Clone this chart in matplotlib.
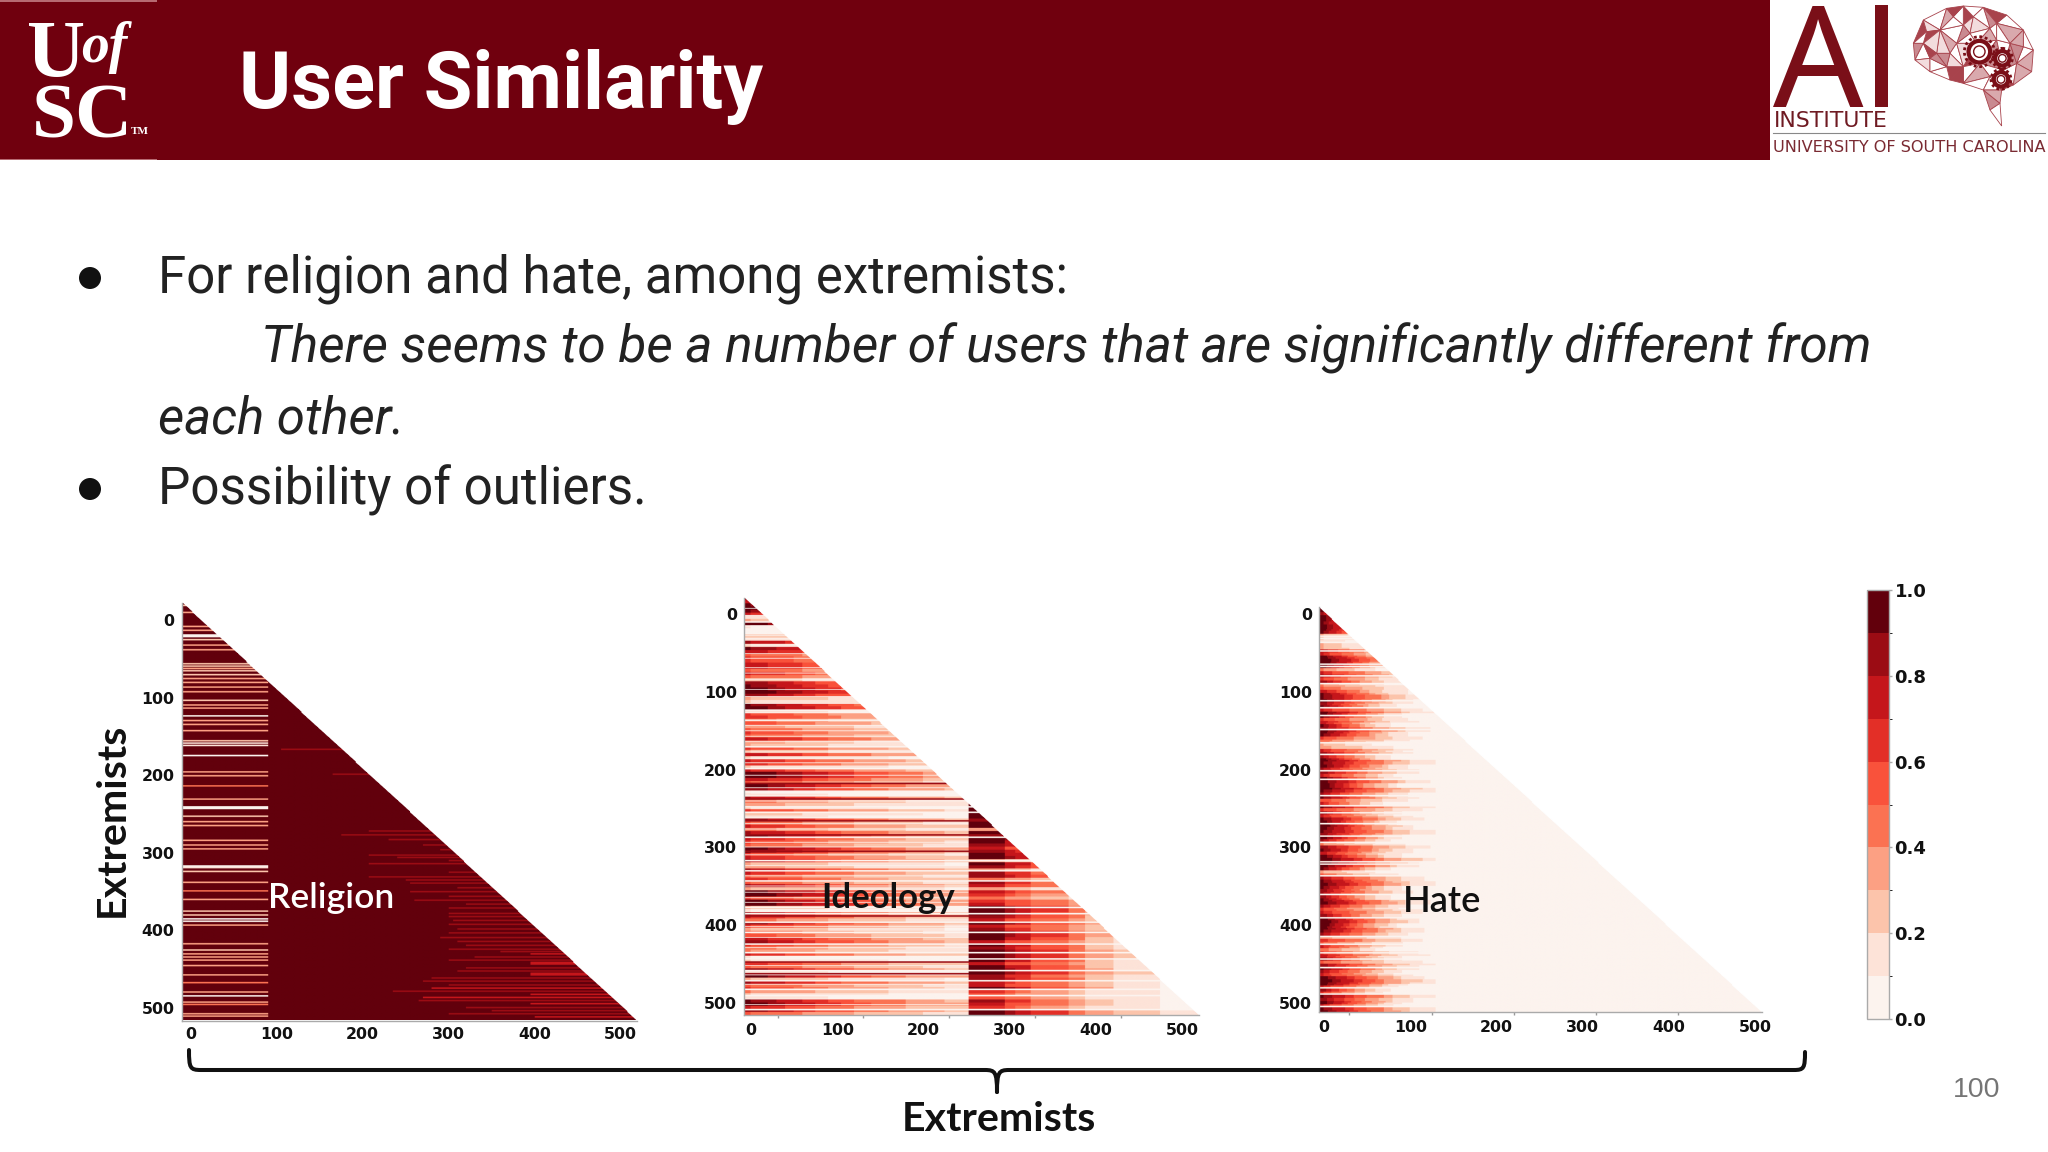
import numpy as np
import matplotlib
matplotlib.use("Agg")
import matplotlib.pyplot as plt
from matplotlib.colors import ListedColormap, BoundaryNorm
from matplotlib.patches import Rectangle, Circle, PathPatch, Polygon
from matplotlib.path import Path
import matplotlib.tri as mtri

# ---------- chart values ----------
title_text = "User Similarity"
panel_names = ["Religion", "Ideology", "Hate"]
tick_values = [0, 100, 200, 300, 400, 500]
bar_ticks = [0.0, 0.2, 0.4, 0.6, 0.8, 1.0]
level_colors = ["#fcf3ee", "#fde3d8", "#fcc4ab", "#fca083", "#fb7252",
                "#f9523b", "#e32f27", "#c5161b", "#9b0c14", "#62000c"]
level_bounds = [0.0, 0.1, 0.2, 0.3, 0.4, 0.5, 0.6, 0.7, 0.8, 0.9, 1.0]

# Religion: light rows in the first block, and red streaks in the second
religion_light_rows = [-18, -9, 9, 14, 20, 22, 26, 33, 39, 57, 60, 63, 66, 71, 76, 81, 87, 93, 104, 110, 114,
                       124, 130, 135, 143, 156, 159, 162, 175, 196, 201, 214, 231, 241, 243, 253, 260, 265,
                       284, 290, 295, 317, 319, 324, 338, 349, 360, 375, 380, 385, 388, 393, 417, 425,
                       430, 434, 438, 445, 457, 467, 479, 484, 492, 495, 507, 510]
religion_light_vals = [.2, .3, .3, .3, .0, .0, .2, .3, .3, .2, .2, .3, .2, .2, .3, .3, .3, .3, .2, .3, .3,
                       .0, .3, .3, .3, .2, .1, .1, .0, .3, .3, .4, .3, .0, .0, .2, .3, .3,
                       .3, .3, .3, .0, .1, .2, .3, .4, .3, .2, .2, .0, .0, .3, .3, .2,
                       .3, .3, .3, .3, .3, .4, .3, .0, .3, .4, .3, .3]
religion_streak_rows = [167, 199, 272, 277, 283, 290, 296, 303, 306, 310, 314, 319, 325, 331, 335, 339, 345,
                        350, 356, 361, 366, 371, 378, 382, 387, 392, 398, 403, 409, 414, 419, 424, 427, 430,
                        434, 438, 441, 443, 448, 452, 455, 457, 461, 465, 470, 474, 478, 482, 486, 490, 494, 499,
                        503, 507, 511]
religion_streak_from = [105, 165, 207, 175, 230, 270, 290, 207, 240, 300, 207, 330, 300, 207, 250, 255, 310,
                        255, 300, 260, 320, 300, 300, 300, 305, 300, 310, 300, 290, 310, 320, 300, 360, 395,
                        330, 300, 395, 395, 320, 310, 395, 395, 280, 270, 300, 280, 235, 395, 270, 265, 395, 320,
                        350, 300, 400]
religion_streak_vals = [.88, .89, .87, .86, .88, .88, .85, .82, .8, .84, .85, .82, .85, .88, .84, .82, .85,
                        .84, .82, .84, .82, .85, .82, .84, .82, .85, .82, .84, .88, .82, .82, .85, .85, .74,
                        .82, .85, .76, .75, .8, .82, .76, .75, .82, .85, .8, .76, .8, .72, .76, .8, .72, .85,
                        .8, .82, .72]

# Ideology: strength of each 4-row band, left block and right block
ideology_left = [.85, .7, .9, .95, .9, .7, .15, .3, .95, .1,
                 .05, .05, .25, .15, .8, .2, .9, .75, .5, .6,
                 .6, .75, .75, .5, .7, .5, .25, .85, .9, .95,
                 1.0, .85, .3, .2, .9, .95, .15, .6, .65, .45,
                 .55, .35, .5, .6, .5, .75, .35, .3, .6, .3,
                 .75, .2, .7, .65, .2, .7, 1.0, 1.0, .75, .5,
                 .95, .85, .1, .15, .8, .45, .35, .2, .6, .25,
                 .15, .85, .5, .7, .45, .8, .95, .7, .6, .5,
                 .95, .9, .6, .7, .8, .3, .35, .8, .7, .5,
                 .65, .5, .8, .3, .95, 1.0, .6, .95, 1.0, .3,
                 .1, .8, .7, .45, .85, .6, .3, .5, .55, .75,
                 .85, .6, .45, .4, .7, .1, .2, .65, .5, .85,
                 .15, .95, .3, .8, .5, .6, .4, .2, .15, .9,
                 .95, .7, .85, .5]
ideology_right = [1, 1, .9, .95, .95, .85, .95, .9,
                  .35, .9, .85, .95, .9, .85, .7, .85, .9,
                  1, .3, .9, .85, .3, .8, .85, .4, .8,
                  .7, .3, .75, .6, .4, .65, .7,
                  1, 1, .95, .85, .7, .95, .7, .8,
                  1, 1, .9, .7, .9, .85, 1, 1,
                  1, .9, .7, .9, .95, 1, .8, .85,
                  .75, .7, .95, .6, .5, .55, .8, .7, .6, 1, 1]
ideology_left_edges = [-8, 0, 10, 20, 30, 40, 50, 60, 75, 90, 105, 120, 140, 160, 180, 200, 225, 253]
ideology_left_mult = [1.0, .98, .95, .92, .88, .84, .8, .75, .7, .65, .6, .55, .5, .46, .42, .38, .33]
ideology_right_edges = [253, 295, 307, 325, 369, 388, 421, 475, 522]
ideology_right_mult = [1.0, .85, .78, .62, .48, .32, .2, .1]
ideology_white_rows = [11, 24, 124, 137, 171, 199, 229, 248, 255, 287, 317, 330, 343, 377, 385, 396,
                       409, 424, 435, 443, 458, 471, 482, 490, 508]
ideology_pale_rows = [-6, 3, 17, 29, 33, 41, 52, 58, 70, 77, 85, 98, 107, 116, 128, 144, 151, 158, 165, 178,
                      186, 192, 208, 224, 234, 241, 262, 270, 277, 294, 300, 310, 324, 337, 350, 358, 365,
                      371, 402, 416, 429, 452, 464, 476, 495, 502]
ideology_dark_rows = [218, 238, 266, 284, 305, 388, 447, 462]

# Hate: strength of each 4-row band, how far each 6-row band reaches, fall-off across the columns
hate_rows = [.95, 1, .8, .95, .95, .9, .95, .95, .9, .3,
             .2, .15, .3, .3, .75, .7, .95, 1, 1, .95,
             .4, .7, .8, .6, .85, .4, .5, .75, .9, .9,
             .95, .85, .9, .7, .95, .9, .6, .75, .9, .85,
             .95, .9, .6, .45, .3, .35, .7, .85, .8, .95,
             .9, .95, .8, .85, .7, .95, .95, 1, 1, .9,
             .8, .9, .55, .7, .9, .6, .85, .7, .9, .95,
             1, .95, .9, .85, .95, .8, .4, .85, .9, .75,
             .95, 1, 1, .95, .9, .3, .5, .8, .9, .95,
             .9, .85, .8, .85, .9, .95, .8, .6, .7, .85,
             .95, 1, 1, .95, .9, .8, .35, .65, .5, .7,
             .45, .6, .75, .85, .5, .85, .9, .8, .7, .95,
             1, .95, .7, .85, .6, .9, .85, .95, .7, .9, .95]
hate_tail = [.5, .5, .6, .6, .7, .6, .8, .7, .6, .85, .7, .9, .75, .6, .95, .8, .7, 1.0, .75, .95,
             .8, .65, 1.0, .7, .85, .6, .95, .75, 1.0, .7, .9, .8, .6, 1.0, .75, .85, .7, .95, .65, 1.0,
             .75, .85, .6, 1.0, .7, .9, .65, .8, 1.0, .7, .6, .95, .8, .7, 1.0, .85, .6, .75, .9, 1.0,
             .7, .8, .6, .95, .75, 1.0, .7, .85, .65, .9, .75, 1.0, .8, .6, .95, .7, 1.0, .85, .7, .9,
             1.0, .75, .6, 1.0, .8, .7, 1.0]
hate_edges = [-7, 0, 5, 10, 15, 20, 25, 30, 35, 40, 45, 50, 55, 60, 70, 80, 90, 100, 115, 130, 2000]
hate_mult = [1, .98, .92, .85, .82, .78, .74, .7, .66, .62, .58, .54, .5, .45, .38, .32, .26, .2, .14, .03]
hate_white_rows = [28, 31, 36, 47, 64, 67, 79, 89, 111, 120, 130, 148, 165, 180, 201, 212, 233, 246, 255,
                   269, 285, 293, 318, 321, 336, 360, 390, 414, 424, 435, 443, 454, 480, 488, 504]

# ---------- helpers ----------
W, H = 2048, 1152
fig = plt.figure(figsize=(W / 100, H / 100), dpi=100, facecolor="white")
bg = fig.add_axes([0, 0, 1, 1], zorder=0)
top = fig.add_axes([0, 0, 1, 1], zorder=10)
for a in (bg, top):
    a.set_xlim(0, W)
    a.set_ylim(H, 0)
    a.axis("off")
top.patch.set_alpha(0)

cmap = ListedColormap(level_colors)
cmap.set_bad((1, 1, 1, 0))
norm = BoundaryNorm(level_bounds, cmap.N)
MAROON = "#70000e"


def col_steps(cols, edges, mult):
    idx = np.clip(np.searchsorted(edges, cols, side="right") - 1, 0, len(mult) - 1)
    return np.array(mult)[idx]


def panel(matrix, rows, cols, px, xspec, yspec, xpad, minor=None):
    left, tp, right, bottom = px
    ax = fig.add_axes([left / W, 1 - bottom / H, (right - left) / W, (bottom - tp) / H], zorder=3)
    x0, xs = xspec
    y0, ys = yspec
    c_lo, c_hi = (left - x0) / xs, (right - x0) / xs
    r_lo, r_hi = (tp - y0) / ys, (bottom - y0) / ys
    cc, rr = np.meshgrid(cols, rows)
    mask = (cc - c_lo) / (c_hi - c_lo) > (rr - r_lo) / (r_hi - r_lo)
    im = ax.imshow(np.ma.array(matrix, mask=mask), cmap=cmap, norm=norm, aspect="auto",
                   extent=[cols[0] - .5, cols[-1] + .5, rows[-1] + .5, rows[0] - .5],
                   interpolation="bilinear", interpolation_stage="rgba")
    ax.set_xlim(c_lo, c_hi)
    ax.set_ylim(r_hi, r_lo)
    ax.set_xticks(tick_values)
    ax.set_yticks(tick_values)
    ax.tick_params(length=0, labelsize=11.3, labelcolor="#111111")
    ax.tick_params(axis="x", pad=xpad)
    ax.tick_params(axis="y", pad=5)
    for t in ax.get_xticklabels() + ax.get_yticklabels():
        t.set_fontweight("bold")
    if minor:
        ax.set_xticks(minor, minor=True)
        ax.tick_params(axis="x", which="minor", length=2, color="#999999", width=1)
    for s in ("top", "right"):
        ax.spines[s].set_visible(False)
    for s in ("left", "bottom"):
        ax.spines[s].set_color("#aaaaaa")
        ax.spines[s].set_linewidth(1)
    ax.patch.set_alpha(0)
    return im


# ---------- religion ----------
rows = np.arange(-24, 516)
cols = np.arange(-12, 522)
M = np.full((rows.size, cols.size), 0.97)
for r, v in zip(religion_light_rows, religion_light_vals):
    M[np.ix_((rows == r) | (rows == r + 1), cols < 90)] = v
for r, c, v in zip(religion_streak_rows, religion_streak_from, religion_streak_vals):
    M[np.ix_((rows == r) | (rows == r + 1), cols >= c)] = v
panel(M, rows, cols, (181.5, 603, 637, 1021), (190.7, .859), (620, .776), 4.5)

# ---------- ideology ----------
rows = np.arange(-21, 517)
cols = np.arange(-9, 522)
lv = np.array(ideology_left)[np.clip((rows + 20) // 4, 0, len(ideology_left) - 1)]
rv = np.array(ideology_right)[np.clip((rows - 244) // 4, 0, len(ideology_right) - 1)]
M = np.outer(lv, col_steps(cols, ideology_left_edges, ideology_left_mult))
M2 = np.outer(rv, col_steps(cols, ideology_right_edges, ideology_right_mult))
M[:, cols >= 253] = M2[:, cols >= 253]
for r in ideology_dark_rows:
    M[np.ix_((rows == r) | (rows == r + 1), cols < 253)] = 0.85
for r in ideology_pale_rows:
    M[np.ix_(rows == r, cols < 253)] = 0.05
for r in ideology_white_rows:
    M[(rows == r) | (rows == r + 1), :] = 0.0
panel(M, rows, cols, (744, 598, 1199, 1015), (751, .862), (614, .778), 5.5, minor=[31, 130, 230, 329, 429])

# ---------- hate ----------
rows = np.arange(-11, 513)
cols = np.arange(-7, 510)
hv = np.array(hate_rows)[np.clip((rows + 10) // 4, 0, len(hate_rows) - 1)]
tv = np.array(hate_tail)[np.clip((rows + 10) // 6, 0, len(hate_tail) - 1)]
M = np.array([s * col_steps(cols / t, hate_edges, hate_mult) for s, t in zip(hv, tv)])
for r in hate_white_rows:
    M[np.ix_((rows == r) | (rows == r + 1), cols < 130)] = 0.0
im = panel(M, rows, cols, (1319, 607, 1762, 1012), (1324, .862), (614, .778), 5.5, minor=[29, 125, 220, 316, 411])

# ---------- colour bar ----------
cax = fig.add_axes([1867 / W, 1 - 1019 / H, 22 / W, 429 / H], zorder=3)
cb = fig.colorbar(im, cax=cax, ticks=bar_ticks, format="%.1f", spacing="proportional")
cb.outline.set_edgecolor("#aaaaaa")
cb.outline.set_linewidth(1)
cb.ax.tick_params(length=2, width=1, color="#aaaaaa", labelsize=13, labelcolor="#111111", pad=2)
for t in cb.ax.get_yticklabels():
    t.set_fontweight("bold")

# ---------- header ----------
bg.add_patch(Rectangle((0, 0), 1770, 160, color=MAROON, lw=0))
bg.add_patch(Rectangle((0, 0), 157, 1.5, color="#b76a72", lw=0))
bg.add_patch(Rectangle((0, 158.5), 157, 1.5, color="#b76a72", lw=0))
top.text(239, 108, title_text, family="Roboto", weight="bold", size=57.2, color="white", va="baseline")

# UofSC logo
top.text(27, 76, "U", family="Liberation Serif", weight="bold", size=58, color="white", va="baseline")
top.text(81, 62, "of", family="Liberation Serif", weight="bold", style="italic", size=40, color="white", va="baseline")
top.text(32, 137, "SC", family="Liberation Serif", weight="bold", size=57, color="white", va="baseline")
top.text(131, 134, "TM", family="Liberation Serif", weight="bold", size=8, color="white", va="baseline")

# AI Institute logo
LOGO = "#7a0f18"
top.text(1773, 107, "A", family="Noto Sans", size=102, color=LOGO, va="baseline")
bg.add_patch(Rectangle((1875, 5), 13, 102, color=LOGO, lw=0))
top.text(1774, 127, "INSTITUTE", family="DejaVu Sans", size=15.8, color="#6f1a22", va="baseline")
bg.plot([1773, 2045], [133, 133], color="#888888", lw=0.8)
top.text(1773, 152, "UNIVERSITY OF SOUTH CAROLINA", family="DejaVu Sans", size=11.6, color="#7a2a32", va="baseline")


def z(px_, py_):
    return 1750 + px_ / 3, py_ / 3


brain_outline = [(490, 130), (520, 60), (590, 25), (640, 18), (700, 22), (770, 45), (820, 90), (850, 150),
                 (845, 215), (790, 255), (755, 270), (750, 310), (755, 378), (720, 330), (700, 270),
                 (640, 250), (600, 240), (540, 215), (495, 180)]
brain_inner = [(570, 90), (640, 75), (720, 85), (780, 130), (620, 130), (560, 160), (640, 200), (720, 230),
               (800, 190), (520, 130), (680, 130), (590, 200), (610, 50), (740, 70), (530, 95), (820, 140),
               (670, 50), (540, 175), (600, 160), (760, 210), (690, 190), (660, 100), (740, 120)]
pts = np.array([z(*p) for p in brain_outline + brain_inner])
tri = mtri.Triangulation(pts[:, 0], pts[:, 1])
outline = Path(np.array([z(*p) for p in brain_outline]))
shades = ["#ffffff", "#d9a9ad", "#ffffff", "#a8434c", "#f2dcdd", "#ffffff", "#c98a90"]
for i, t in enumerate(tri.triangles):
    c = pts[t].mean(axis=0)
    if outline.contains_point(c):
        bg.add_patch(Polygon(pts[t], closed=True, facecolor=shades[i % len(shades)],
                             edgecolor="#a8434c", lw=0.6))
for (gx, gy, gr) in [(688, 155, 15), (757, 175, 10), (753, 238, 10)]:
    cx, cy = z(gx, gy)
    bg.add_patch(Circle((cx, cy), gr, fill=False, ec="#7a0f18", lw=2, ls=(0, (1, 1)), zorder=4))
    bg.add_patch(Circle((cx, cy), gr * .72, facecolor="white", ec="#7a0f18", lw=3, zorder=4))
    bg.add_patch(Circle((cx, cy), gr * .38, facecolor="white", ec="#7a0f18", lw=1, zorder=4))

# ---------- bullets ----------
body = dict(family="Roboto", color="#222222", va="baseline")
for by in (278, 489):
    bg.add_patch(Circle((90, by), 11, color="#111111", lw=0))
top.text(158, 292, "For religion and hate, among extremists:", size=36.7, **body)
top.text(261, 362, "There seems to be a number of users that are significantly different from", size=37, style="italic", **body)
top.text(158, 433, "each other.", size=36.7, style="italic", **body)
top.text(158, 505, "Possibility of outliers.", size=36.8, **body)

# ---------- annotations ----------
top.text(268, 908, panel_names[0], family="Lato", weight="semibold", size=25.5, color="white", va="baseline")
top.text(821, 908, panel_names[1], family="Lato", weight="bold", size=25, color="#111111", va="baseline")
top.text(1403, 912, panel_names[2], family="Lato", weight="semibold", size=26, color="#111111", va="baseline")
top.text(999, 1131, "Extremists", family="Lato", weight="bold", size=29.6, color="#111111", va="baseline", ha="center")
top.text(112, 820, "Extremists", family="Lato", weight="bold", size=29.6, color="#111111",
         va="center", ha="center", rotation=90)
top.text(1977, 1090, "100", family="Liberation Sans", size=20.5, color="#757575", va="center", ha="center")

brace = Path([(189, 1050), (189, 1068), (190, 1070), (201, 1070), (985, 1070), (995, 1070), (997, 1072), (997, 1092)],
             [Path.MOVETO, Path.CURVE4, Path.CURVE4, Path.CURVE4, Path.LINETO, Path.CURVE4, Path.CURVE4, Path.CURVE4])
brace2 = Path([(997, 1092), (997, 1072), (999, 1070), (1009, 1070), (1794, 1070), (1804, 1070), (1805, 1068), (1805, 1052)],
              [Path.MOVETO, Path.CURVE4, Path.CURVE4, Path.CURVE4, Path.LINETO, Path.CURVE4, Path.CURVE4, Path.CURVE4])
for p in (brace, brace2):
    top.add_patch(PathPatch(p, fill=False, ec="#111111", lw=2.9, capstyle="round"))

fig.savefig("out.png", dpi=100)
